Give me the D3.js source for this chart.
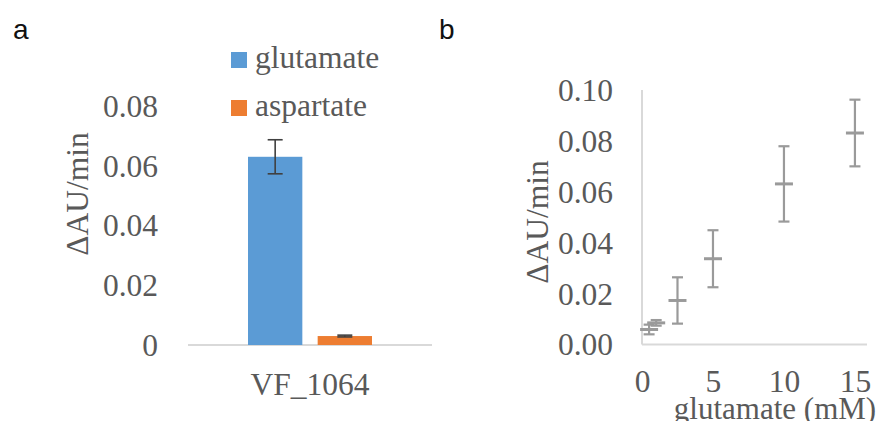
<!DOCTYPE html>
<html>
<head>
<meta charset="utf-8">
<script src="https://cdn.jsdelivr.net/npm/d3@7"></script>
<style>
  html, body { margin: 0; padding: 0; background: #fff; }
  svg text { font-family: "Liberation Serif", "Times New Roman", serif; fill: #595959; }
</style>
</head>
<body>
<svg id="chart" width="885" height="421"></svg>
<script>
// Panel a: activity with two substrates
const categories = ["VF_1064"];
const seriesNames = ["glutamate", "aspartate"];
const seriesColors = ["#5b9bd5", "#ed7d31"];
const barValues = [0.063, 0.003];
const barErrors = [0.0057, 0.0003];
const yTicksA = [0, 0.02, 0.04, 0.06, 0.08];
const yTickLabelsA = ["0", "0.02", "0.04", "0.06", "0.08"];

// Panel b: activity vs glutamate concentration
const concentrations = [0.5, 1, 2.5, 5, 10, 15];
const rates = [0.0059, 0.0085, 0.0173, 0.0337, 0.0631, 0.0831];
const rateErrors = [0.0019, 0.0011, 0.0091, 0.0112, 0.0148, 0.0131];
const yTicksB = [0, 0.02, 0.04, 0.06, 0.08, 0.10];
const xTicksB = [0, 5, 10, 15];

const svg = d3.select("#chart");
const FS = 31.5;

// panel letters
svg.append("text").attr("x", 13).attr("y", 39).text("a")
  .style("font-family", "'Liberation Sans', Arial, sans-serif").style("font-size", "28px").style("fill", "#111");
svg.append("text").attr("x", 439).attr("y", 39).text("b")
  .style("font-family", "'Liberation Sans', Arial, sans-serif").style("font-size", "28px").style("fill", "#111");

// ---------- panel a ----------
const yA = d3.scaleLinear().domain([0, 0.08]).range([345, 106]);
const xA = d3.scaleBand().domain(categories).range([188, 432]);
const xS = d3.scaleBand().domain(seriesNames).range([248, 372]).paddingInner(0.22);

const gA = svg.append("g");
const axA = d3.axisLeft(yA).tickValues(yTicksA).tickSize(0).tickPadding(0)
  .tickFormat((d, i) => yTickLabelsA[i]);
gA.append("g").attr("transform", "translate(158,0)").call(axA)
  .call(g => g.select(".domain").remove())
  .call(g => g.selectAll("text").style("font-size", FS + "px").style("fill", "#595959")
    .style("font-family", "'Liberation Serif', serif").attr("dy", "0.33em"));

gA.append("line").attr("x1", xA.range()[0]).attr("x2", xA.range()[1])
  .attr("y1", yA(0)).attr("y2", yA(0)).attr("stroke", "#d9d9d9").attr("stroke-width", 2);

gA.selectAll("rect.bar").data(barValues).join("rect")
  .attr("class", "bar")
  .attr("x", (d, i) => xS(seriesNames[i]))
  .attr("width", xS.bandwidth())
  .attr("y", d => yA(d))
  .attr("height", d => yA(0) - yA(d))
  .attr("fill", (d, i) => seriesColors[i]);

barValues.forEach((v, i) => {
  const cx = xS(seriesNames[i]) + xS.bandwidth() / 2;
  const e = barErrors[i];
  const g = gA.append("g").attr("stroke", "#404040").attr("stroke-width", 1.6);
  g.append("line").attr("x1", cx).attr("x2", cx).attr("y1", yA(v + e)).attr("y2", yA(v - e));
  g.append("line").attr("x1", cx - 7.5).attr("x2", cx + 7.5).attr("y1", yA(v + e)).attr("y2", yA(v + e));
  g.append("line").attr("x1", cx - 7.5).attr("x2", cx + 7.5).attr("y1", yA(v - e)).attr("y2", yA(v - e));
});

gA.append("text").attr("x", xA(categories[0]) + xA.bandwidth() / 2).attr("y", 395)
  .attr("text-anchor", "middle").style("font-size", FS + "px").text(categories[0]);

gA.append("text").attr("transform", "translate(88,194) rotate(-90)")
  .attr("text-anchor", "middle").style("font-size", FS + "px").text("ΔAU/min");

// legend
seriesNames.forEach((n, i) => {
  const y0 = 52 + i * 48;
  gA.append("rect").attr("x", 231).attr("y", y0).attr("width", 16).attr("height", 16).attr("fill", seriesColors[i]);
  gA.append("text").attr("x", 255).attr("y", y0 + 16).style("font-size", FS + "px").text(n);
});

// ---------- panel b ----------
const xB = d3.scaleLinear().domain([0, 15.85]).range([642, 867]);
const yB = d3.scaleLinear().domain([0, 0.10]).range([344.5, 90]);
const gB = svg.append("g");

gB.append("g").attr("transform", "translate(613,0)")
  .call(d3.axisLeft(yB).tickValues(yTicksB).tickSize(0).tickPadding(0).tickFormat(d3.format(".2f")))
  .call(g => g.select(".domain").remove())
  .call(g => g.selectAll("text").style("font-size", FS + "px").style("fill", "#595959")
    .style("font-family", "'Liberation Serif', serif").attr("dy", "0.33em"));

gB.append("g").attr("transform", "translate(0,392)")
  .call(d3.axisBottom(xB).tickValues(xTicksB).tickSize(0).tickPadding(0).tickFormat(d3.format("d")))
  .call(g => g.select(".domain").remove())
  .call(g => g.selectAll("text").style("font-size", FS + "px").style("fill", "#595959")
    .style("font-family", "'Liberation Serif', serif").attr("dy", "0"));

gB.append("line").attr("x1", xB(0)).attr("x2", xB(0)).attr("y1", yB(0.1)).attr("y2", yB(0))
  .attr("stroke", "#d9d9d9").attr("stroke-width", 2);
gB.append("line").attr("x1", xB(0)).attr("x2", xB.range()[1]).attr("y1", yB(0)).attr("y2", yB(0))
  .attr("stroke", "#d9d9d9").attr("stroke-width", 2);

concentrations.forEach((c, i) => {
  const cx = xB(c), v = rates[i], e = rateErrors[i];
  const g = gB.append("g").attr("stroke", "#9a9a9a").attr("stroke-width", 2.2);
  g.append("line").attr("x1", cx).attr("x2", cx).attr("y1", yB(v + e)).attr("y2", yB(v - e));
  g.append("line").attr("x1", cx - 5.5).attr("x2", cx + 5.5).attr("y1", yB(v + e)).attr("y2", yB(v + e));
  g.append("line").attr("x1", cx - 5.5).attr("x2", cx + 5.5).attr("y1", yB(v - e)).attr("y2", yB(v - e));
  g.append("line").attr("x1", cx - 9).attr("x2", cx + 9).attr("y1", yB(v)).attr("y2", yB(v)).attr("stroke-width", 3);
});

gB.append("text").attr("x", 775).attr("y", 419).attr("text-anchor", "middle")
  .style("font-size", "31px").text("glutamate (mM)");
gB.append("text").attr("transform", "translate(548,222) rotate(-90)")
  .attr("text-anchor", "middle").style("font-size", FS + "px").text("ΔAU/min");
</script>
</body>
</html>
